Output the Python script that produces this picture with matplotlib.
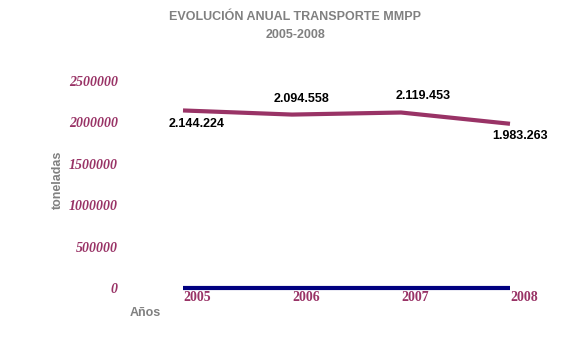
import matplotlib
matplotlib.use("Agg")
import matplotlib.pyplot as plt
from matplotlib.transforms import ScaledTranslation

# data
years = ["2005", "2006", "2007", "2008"]
toneladas = [2144224, 2094558, 2119453, 1983263]
base_line = [0, 0, 0, 0]
value_labels = ["2.144.224", "2.094.558", "2.119.453", "1.983.263"]
yticks = [0, 500000, 1000000, 1500000, 2000000, 2500000]

MAROON = "#993366"
NAVY = "#000080"
GRAY = "#808080"

fig = plt.figure(figsize=(5.79, 3.39), dpi=100)
ax = fig.add_axes([183/579, 1-288/339, (510-183)/579, (288-81)/339])

x = list(range(len(years)))
ax.plot(x, toneladas, color=MAROON, lw=3, clip_on=False, solid_capstyle="butt")
ax.plot(x, base_line, color=NAVY, lw=3, clip_on=False, solid_capstyle="butt")

# data label offsets in points (first/last below, middle above)
offsets = [(10, -10), (7, 11), (16, 12), (7, -9)]
for xi, yi, lab, (dx, dy) in zip(x, toneladas, value_labels, offsets):
    ax.annotate(lab, (xi, yi), xytext=(dx, dy), textcoords="offset points",
                ha="center", va="center", fontsize=9, fontweight="bold",
                family="Liberation Sans", color="black")

ax.set_xlim(0, 3)
ax.set_ylim(0, 2500000)
ax.set_xticks(x)
ax.set_xticklabels(years, family="Liberation Serif", fontweight="bold",
                   fontsize=10, color=MAROON)
ax.set_yticks(yticks)
ax.set_yticklabels([str(v) for v in yticks], family="Liberation Serif",
                   fontweight="bold", style="italic", fontsize=10, color=MAROON)
ax.tick_params(axis="y", length=0, pad=47)
ax.tick_params(axis="x", length=0, pad=2)
shift = ScaledTranslation(14/100, 0, fig.dpi_scale_trans)
for t in ax.get_xticklabels():
    t.set_transform(t.get_transform() + shift)

for s in ax.spines.values():
    s.set_visible(False)

fig.text(58/579, 1-180/339, "toneladas", rotation=90, ha="center", va="center",
         fontsize=9, fontweight="bold", color=GRAY, family="Liberation Sans")
fig.text(145/579, 1-313/339, "Años", ha="center", va="center",
         fontsize=9, fontweight="bold", color=GRAY, family="Liberation Sans")
fig.text(295/579, 1-17/339, "EVOLUCIÓN ANUAL TRANSPORTE MMPP", ha="center",
         va="center", fontsize=9, fontweight="bold", color=GRAY,
         family="Liberation Sans")
fig.text(295/579, 1-35/339, "2005-2008", ha="center", va="center",
         fontsize=9, fontweight="bold", color=GRAY, family="Liberation Sans")

fig.savefig("out.png", dpi=100)
